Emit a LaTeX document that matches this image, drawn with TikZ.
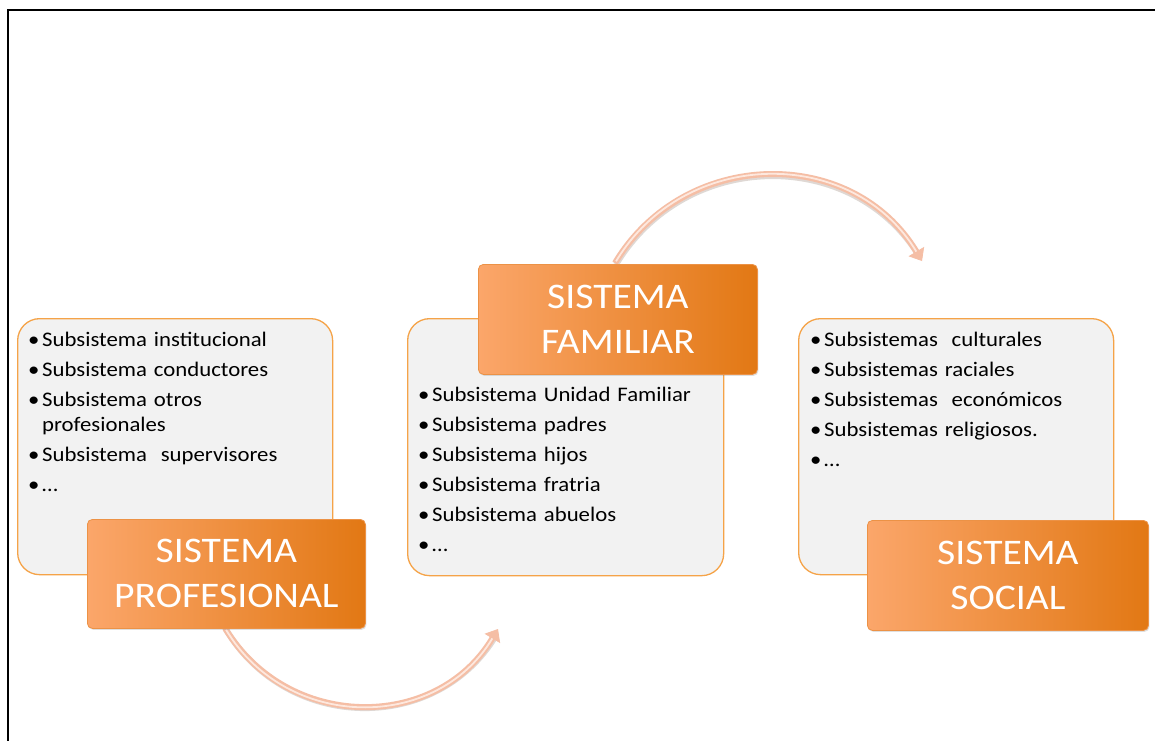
\documentclass[tikz,border=0pt]{standalone}
\usepackage{fontspec}
\setmainfont{Carlito}[FakeStretch=1.1]
\usetikzlibrary{arrows.meta,shadows}
\definecolor{boxgray}{RGB}{242,242,242}
\definecolor{boxline}{RGB}{245,163,72}
\definecolor{orL}{RGB}{251,166,106}
\definecolor{orR}{RGB}{226,120,20}
\definecolor{orEdge}{RGB}{236,146,70}
\definecolor{arrowc}{RGB}{245,190,165}
\definecolor{arrowhl}{RGB}{253,232,222}
\definecolor{arrowsh}{RGB}{185,170,160}
\newcommand{\bfirst}[1]{\hangindent=14pt\hangafter=1\noindent\makebox[14pt][l]{\textbullet}#1}
\newcommand{\bitem}[1]{\par\bfirst{#1}}
\tikzset{
  graybox/.style={draw=boxline, line width=1.3pt, fill=boxgray, rounded corners=22pt,
    anchor=north west, inner sep=0pt},
  titlebox/.style={rounded corners=5pt, left color=orL, right color=orR, draw=orEdge,
    line width=0.8pt, text=white, font=\fontsize{36}{45}\selectfont, align=center,
    inner sep=0pt, anchor=north west, drop shadow={shadow xshift=1pt, shadow yshift=-1.5pt, opacity=0.25}},
  listtext/.style={anchor=base west, inner sep=0pt, text width=#1, align=left,
    font=\fontsize{20.7}{24.3}\selectfont,
    execute at begin node={\setlength{\parskip}{5.7pt}\hyphenpenalty=10000\exhyphenpenalty=10000}},
  arrowshadow/.style={draw=arrowsh, line width=6pt, opacity=0.45, shorten >=6pt},
  arrowbody/.style={draw=arrowc, line width=6pt,
    -{Triangle[length=11pt, width=18pt, line width=0.8pt, fill=arrowc]}},
  arrowlight/.style={draw=arrowhl, line width=1.8pt, shorten >=11pt, shorten <=2pt},
  frameline/.style={line width=2.5pt, draw=black}
}
\begin{document}
\begin{tikzpicture}[x=1pt, y=-1pt]
\useasboundingbox (0,0) rectangle (1155,740);
\fill[white] (0,0) rectangle (1155,740);
\draw[frameline] (8,760) -- (8,10) -- (1170,10);

% gray panels
\node[graybox, minimum width=315pt, minimum height=256pt] (pgray) at (17,318) {};
\node[graybox, minimum width=316pt, minimum height=257pt] (fgray) at (407,318) {};
\node[graybox, minimum width=315pt, minimum height=256pt] (sgray) at (798,318) {};

% lists
\node[listtext=270pt] (plist) at (28,346.7) {%
  \bfirst{Subsistema institucional}
  \bitem{Subsistema conductores}
  \bitem{Subsistema otros profesionales}
  \bitem{Subsistema\ \ supervisores}
  \bitem{…}};
\node[listtext=295pt] (flist) at (418,401.7) {%
  \bfirst{Subsistema Unidad Familiar}
  \bitem{Subsistema padres}
  \bitem{Subsistema hijos}
  \bitem{Subsistema fratria}
  \bitem{Subsistema abuelos}
  \bitem{…}};
\node[listtext=295pt] (slist) at (810,346.7) {%
  \bfirst{Subsistemas\ \ culturales}
  \bitem{Subsistemas raciales}
  \bitem{Subsistemas\ \ económicos}
  \bitem{Subsistemas religiosos.}
  \bitem{…}};

% arrows
\coordinate (a1s) at (615,263);
\coordinate (a1e) at (922,261);
\coordinate (a2s) at (225,628);
\coordinate (a2e) at (498,629);
\draw[arrowshadow, transform canvas={xshift=1pt, yshift=-1.5pt}] (a1s) .. controls +(69.5,-115.7) and +(-69.5,-115.7) .. (a1e);
\draw[arrowbody] (a1s) .. controls +(69.5,-115.7) and +(-69.5,-115.7) .. (a1e);
\draw[arrowlight] (a1s) .. controls +(69.5,-115.7) and +(-69.5,-115.7) .. (a1e);
\draw[arrowshadow, transform canvas={xshift=1pt, yshift=-1.5pt}] (a2s) .. controls +(62,103.2) and +(-62,103.2) .. (a2e);
\draw[arrowbody] (a2s) .. controls +(62,103.2) and +(-62,103.2) .. (a2e);
\draw[arrowlight] (a2s) .. controls +(62,103.2) and +(-62,103.2) .. (a2e);

% title boxes
\node[titlebox, minimum width=278pt, minimum height=109pt] (ptitle) at (87,519) {SISTEMA\\PROFESIONAL};
\node[titlebox, minimum width=279pt, minimum height=110pt] (ftitle) at (478,264) {SISTEMA\\FAMILIAR};
\node[titlebox, minimum width=281pt, minimum height=110pt] (stitle) at (867,520) {SISTEMA\\SOCIAL};
\end{tikzpicture}
\end{document}
